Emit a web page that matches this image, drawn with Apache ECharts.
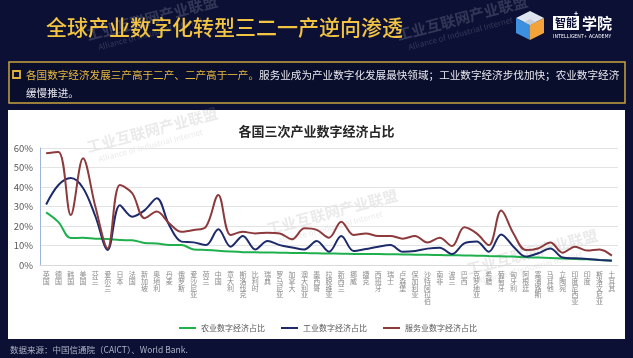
<!DOCTYPE html>
<html>
<head>
<meta charset="utf-8">
<script src="https://cdn.jsdelivr.net/npm/echarts@6/dist/echarts.min.js"></script>
<style>
html,body{margin:0;padding:0;background:#0b1034;}
#c{width:633px;height:358px;}
</style>
</head>
<body>
<div id="c"></div>
<script>
const categories = ['英国','德国','韩国','美国','芬兰','爱尔兰','日本','法国','新加坡','奥地利','丹麦','俄罗斯','爱沙尼亚','荷兰','中国','意大利','斯洛伐克','比利时','瑞典','罗马尼亚','加拿大','澳大利亚','墨西哥','拉脱维亚','新西兰','挪威','捷克','西班牙','瑞士','卢森堡','保加利亚','沙特阿拉伯','南非','波兰','巴西','克罗地亚','希腊','葡萄牙','匈牙利','阿根廷','塞浦路斯','马耳他','立陶宛','印度尼西亚','印度','斯洛文尼亚','土耳其'];
const agriculture = [27,22,13.8,14,13.5,13.3,12.8,12.7,11.3,11,10.3,10.2,8,7.7,7.3,6.9,6.6,6.5,6.4,6.3,6.2,6.1,6.0,5.9,5.8,5.7,5.6,5.6,5.5,5.4,5.3,5.2,5.1,5.0,4.9,4.8,4.6,4.5,4.3,4.0,3.8,3.6,3.3,3.1,2.9,2.6,2.3];
const industry = [31,41,44.6,39.5,25,7.7,30.7,24.8,28,34.2,20.5,12,11.6,10.2,18.3,9.4,14.9,8,12.3,10.2,9,8,12.3,6.8,14.9,7.2,8.2,9.4,10.2,6.8,7.2,8.4,8.9,5.6,11.1,12,6.8,15.7,9.4,4.3,6,8.5,3.8,3.4,3.1,2.6,2.2];
const service = [57.3,58,25.6,54.7,30,8.5,41,36.8,24,27.4,21.4,17,17.9,19.7,35.9,15.4,17,16.2,16.6,16.2,13.2,18.8,18,14,22.2,15.4,16.2,14.9,14.9,13.5,14.9,11.5,14,9.7,19.3,16.2,10.2,27.9,16.2,7.7,8.5,11.5,6.3,9.4,7.4,8,4.8];
const seriesNames = ['农业数字经济占比','工业数字经济占比','服务业数字经济占比'];
const yTicks = [0,10,20,30,40,50,60];

const FONT = '"Noto Sans CJK SC","Noto Sans",sans-serif';
const chart = echarts.init(document.getElementById('c'));

function wm(x, y, dark) {
  const c1 = dark ? 'rgba(190,195,215,0.22)' : 'rgba(150,150,150,0.2)';
  return {
    type: 'group', x: x, y: y, rotation: 0.26, silent: true, z: 50,
    children: [
      {type:'text', x:0, y:0, style:{text:'工业互联网产业联盟', fill:c1, font:'bold 15px ' + FONT}},
      {type:'text', x:8, y:18, style:{text:'Alliance of Industrial Internet', fill:c1, font:'8px ' + FONT}}
    ]
  };
}

chart.setOption({
  backgroundColor: '#0b1034',
  animation: false,
  title: {
    text: '各国三次产业数字经济占比',
    left: 'center', top: 120,
    textStyle: {fontSize: 13, fontWeight: 'bold', color: '#262626', fontFamily: FONT}
  },
  legend: {
    left: 174, top: 319,
    icon: 'rect', itemWidth: 17, itemHeight: 2, itemGap: 16,
    textStyle: {fontSize: 8, color: '#595959', fontFamily: FONT},
    data: seriesNames
  },
  grid: {left: 40, right: 15, top: 148, bottom: 93},
  xAxis: {
    type: 'category', data: categories, boundaryGap: true,
    axisTick: {show: false},
    axisLine: {lineStyle: {color: '#d9d9d9'}},
    axisLabel: {
      interval: 0, margin: 6, fontSize: 7, lineHeight: 6.8, color: '#8a8a8a', fontFamily: FONT,
      formatter: v => v.split('').join('\n')
    }
  },
  yAxis: {
    type: 'value', min: yTicks[0], max: yTicks[yTicks.length-1], interval: 10,
    axisLine: {show: true, lineStyle: {color: '#9db5dc', width: 1}},
    axisTick: {show: false},
    splitLine: {lineStyle: {color: '#e3e3e3'}},
    axisLabel: {formatter: '{value}%', fontSize: 9.5, color: '#595959', margin: 7, fontFamily: FONT}
  },
  series: [
    {name: seriesNames[0], type: 'line', data: agriculture, smooth: 0.35, showSymbol: false, lineStyle: {width: 2, color: '#1fb04e'}, itemStyle: {color: '#1fb04e'}, z: 3},
    {name: seriesNames[1], type: 'line', data: industry, smooth: 0.35, showSymbol: false, lineStyle: {width: 2, color: '#1d2b6b'}, itemStyle: {color: '#1d2b6b'}, z: 4},
    {name: seriesNames[2], type: 'line', data: service, smooth: 0.35, showSymbol: false, lineStyle: {width: 2, color: '#8c3a3c'}, itemStyle: {color: '#8c3a3c'}, z: 5}
  ],
  graphic: [
    {type: 'rect', z: -10, shape: {x: 8, y: 110, width: 617, height: 229}, style: {fill: '#ffffff'}},
    {type: 'rect', z: -10, shape: {x: 9, y: 62, width: 616, height: 41}, style: {fill: '#0a0e2d', stroke: '#c9a43e', lineWidth: 1.5}},
    {type: 'rect', z: 1, shape: {x: 13, y: 71, width: 7, height: 7}, style: {fill: 'none', stroke: '#e2b43c', lineWidth: 1.8}},
    {type: 'text', z: 1, x: 26, y: 75, style: {
      text: '{a|各国数字经济发展三产高于二产、二产高于一产。}{b|服务业成为产业数字化发展最快领域；工业数字经济步伐加快；农业数字经济}',
      verticalAlign: 'middle',
      rich: {
        a: {fill: '#e9b93e', fontSize: 10.6, fontFamily: FONT},
        b: {fill: '#e8e8ee', fontSize: 10.6, fontFamily: FONT}
      }
    }},
    {type: 'text', z: 1, x: 26, y: 93, style: {text: '缓慢推进。', fill: '#e8e8ee', font: '10.6px ' + FONT, verticalAlign: 'middle'}},
    {type: 'text', z: 1, x: 46, y: 27, style: {text: '全球产业数字化转型三二一产逆向渗透', fill: '#f2c442', font: '500 21px ' + FONT, verticalAlign: 'middle'}},
    {type: 'text', z: 1, x: 10, y: 350, style: {text: '数据来源：中国信通院（CAICT）、World Bank.', fill: '#aeb2c6', font: '8.5px ' + FONT, verticalAlign: 'middle'}},
    // logo
    {type: 'polygon', z: 1, shape: {points: [[530,11],[544,18],[530,25],[516,18]]}, style: {fill: '#dfe5ee'}},
    {type: 'polygon', z: 1, shape: {points: [[516,18],[530,25],[530,40],[516,33]]}, style: {fill: '#3d8fe0'}},
    {type: 'polygon', z: 1, shape: {points: [[544,18],[530,25],[530,40],[544,33]]}, style: {fill: '#f2a33a'}},
    {type: 'polygon', z: 2, shape: {points: [[530,19],[536,22],[530,25],[524,22]]}, style: {fill: '#c4ccd8'}},
    {type: 'rect', z: 1, shape: {x: 553, y: 16, width: 26, height: 14}, style: {fill: '#ffffff'}},
    {type: 'text', z: 2, x: 566, y: 23, style: {text: '智能', fill: '#0b1034', font: 'bold 11px ' + FONT, align: 'center', verticalAlign: 'middle'}},
    {type: 'text', z: 2, x: 576, y: 13, style: {text: '+', fill: '#ffffff', font: 'bold 7px ' + FONT, align: 'center', verticalAlign: 'middle'}},
    {type: 'text', z: 1, x: 582, y: 23, style: {text: '学院', fill: '#ffffff', font: 'bold 15px ' + FONT, verticalAlign: 'middle'}},
    {type: 'text', z: 1, x: 553, y: 36, style: {text: 'INTELLIGENT+  ACADEMY', fill: '#ffffff', font: '5px ' + FONT, verticalAlign: 'middle'}},
    // watermarks
    wm(85, 28, true), wm(395, 28, true), wm(85, 140, false), wm(265, 222, false), wm(465, 262, false)
  ]
});
</script>
</body>
</html>
